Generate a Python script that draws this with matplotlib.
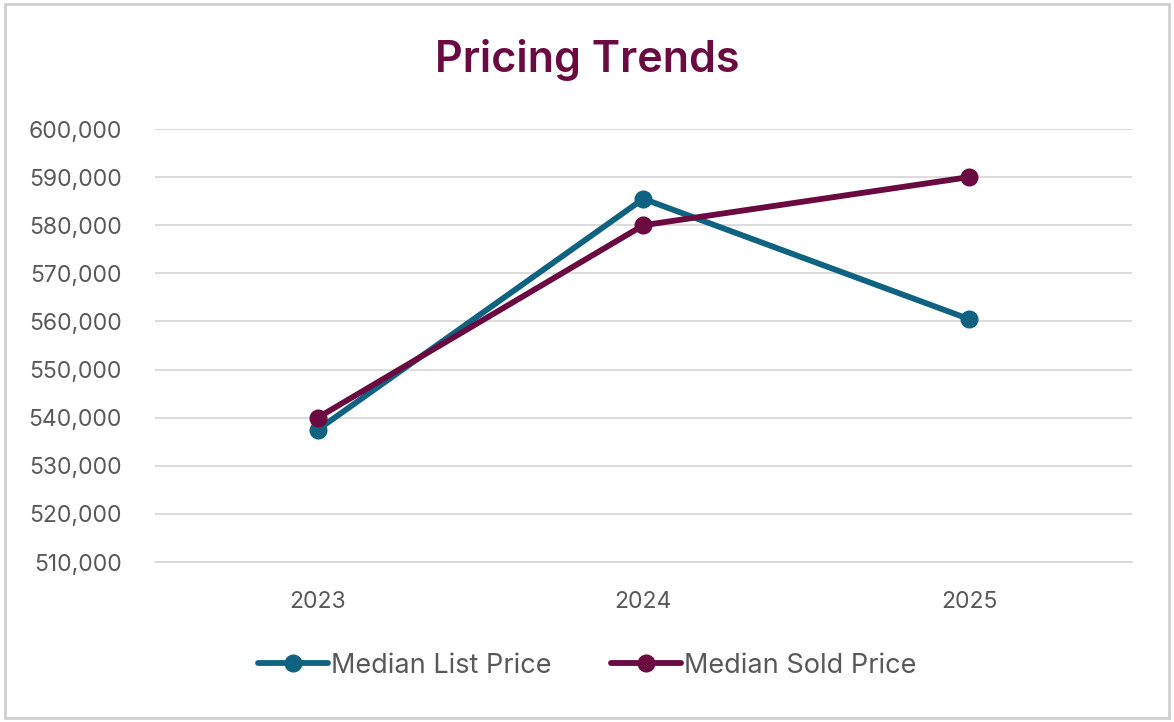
import matplotlib.pyplot as plt
from matplotlib.patches import Rectangle
from matplotlib.ticker import FuncFormatter

years = ['2023', '2024', '2025']
list_price = [537500, 585500, 560500]
sold_price = [540000, 580000, 590000]

teal = '#0F6381'
maroon = '#6A0A40'
grey_text = '#595959'

plt.rcParams['font.family'] = ['Inter', 'DejaVu Sans']

fig = plt.figure(figsize=(11.74, 7.22), dpi=100)
fig.patch.set_facecolor('white')
# frame around the chart
fig.patches.append(Rectangle((0.004, 0.006), 0.992, 0.988, transform=fig.transFigure,
                             fill=False, edgecolor='#D0D0D0', linewidth=2))

ax = fig.add_axes([0.132, 0.2216, 0.832, 0.5997])
x = range(len(years))
ax.plot(x, list_price, color=teal, linewidth=4.2, marker='o', markersize=12,
        label='Median List Price', solid_capstyle='round', zorder=3)
ax.plot(x, sold_price, color=maroon, linewidth=4.2, marker='o', markersize=12,
        label='Median Sold Price', solid_capstyle='round', zorder=4)

ax.set_xlim(-0.5, 2.5)
ax.set_ylim(510000, 600000)
ax.set_yticks(range(510000, 600001, 10000))
ax.yaxis.set_major_formatter(FuncFormatter(lambda v, p: f'{int(v):,}'))
ax.set_xticks(list(x))
ax.set_xticklabels(years)
ax.grid(axis='y', color='#D9D9D9', linewidth=1.3)
ax.set_axisbelow(True)
for s in ['top', 'right', 'left']:
    ax.spines[s].set_visible(False)
ax.spines['bottom'].set_color('#D9D9D9')
ax.spines['bottom'].set_linewidth(1.3)
ax.tick_params(length=0, labelsize=16.5, labelcolor=grey_text)
ax.tick_params(axis='y', pad=24)
ax.tick_params(axis='x', pad=21)

fig.text(0.5, 0.917, 'Pricing Trends', ha='center', va='center', fontsize=31,
         fontweight='semibold', color=maroon)

fig.legend(loc='center', bbox_to_anchor=(0.5, 0.078), ncol=2, frameon=False,
           fontsize=19.5, labelcolor=grey_text, handlelength=2.6, handletextpad=0.1,
           columnspacing=2.2)

fig.savefig('out.png', dpi=100)
